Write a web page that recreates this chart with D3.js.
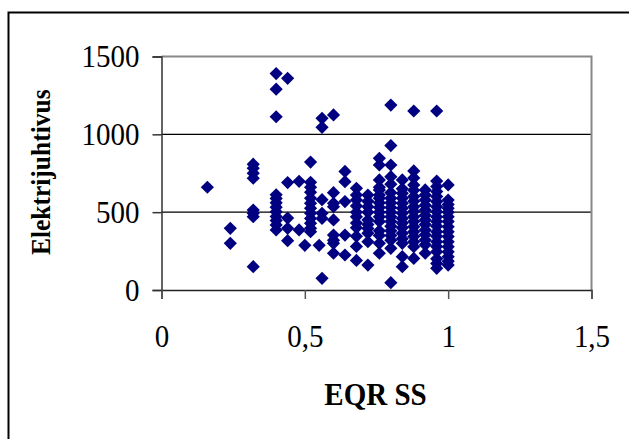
<!DOCTYPE html>
<html>
<head>
<meta charset="utf-8">
<script src="https://cdn.jsdelivr.net/npm/d3@7"></script>
<style>
  html, body { margin: 0; padding: 0; background: #fff; }
  svg { display: block; }
  text { font-family: "Liberation Serif", "Times New Roman", serif; fill: #000; }
</style>
</head>
<body>
<svg id="chart" width="629" height="439"></svg>
<script>
// EQR SS value of each sampling site (x) and its electrical conductivity (y)
const eqrSS = [
  0.16,
  0.24, 0.24,
  0.32, 0.32, 0.32, 0.32, 0.32, 0.32, 0.32, 0.32,
  0.40, 0.40, 0.40, 0.40, 0.40, 0.40, 0.40, 0.40, 0.40, 0.40, 0.40, 0.40,
  0.44, 0.44, 0.44, 0.44, 0.44,
  0.48, 0.48,
  0.50,
  0.52, 0.52, 0.52, 0.52, 0.52, 0.52, 0.52, 0.52, 0.52, 0.52, 0.52, 0.52,
  0.55,
  0.56, 0.56, 0.56, 0.56, 0.56, 0.56,
  0.60, 0.60, 0.60, 0.60, 0.60, 0.60, 0.60, 0.60, 0.60,
  0.64, 0.64, 0.64, 0.64, 0.64,
  0.68, 0.68, 0.68, 0.68, 0.68, 0.68, 0.68, 0.68, 0.68, 0.68, 0.68,
  0.72, 0.72, 0.72, 0.72, 0.72, 0.72, 0.72, 0.72, 0.72, 0.72,
  0.76, 0.76, 0.76, 0.76, 0.76, 0.76, 0.76, 0.76, 0.76, 0.76, 0.76, 0.76, 0.76, 0.76, 0.76, 0.76,
  0.80, 0.80, 0.80, 0.80, 0.80, 0.80, 0.80, 0.80, 0.80, 0.80, 0.80, 0.80, 0.80, 0.80, 0.80, 0.80, 0.80, 0.80,
  0.84, 0.84, 0.84, 0.84, 0.84, 0.84, 0.84, 0.84, 0.84, 0.84, 0.84, 0.84, 0.84, 0.84, 0.84,
  0.88, 0.88, 0.88, 0.88, 0.88, 0.88, 0.88, 0.88, 0.88, 0.88, 0.88, 0.88, 0.88, 0.88, 0.88, 0.88, 0.88,
  0.92, 0.92, 0.92, 0.92, 0.92, 0.92, 0.92, 0.92, 0.92, 0.92, 0.92, 0.92, 0.92,
  0.96, 0.96, 0.96, 0.96, 0.96, 0.96, 0.96, 0.96, 0.96, 0.96, 0.96, 0.96, 0.96, 0.96, 0.96, 0.96, 0.96, 0.96, 0.96,
  1.00, 1.00, 1.00, 1.00, 1.00, 1.00, 1.00, 1.00, 1.00, 1.00, 1.00, 1.00, 1.00, 1.00, 1.00, 1.00
];

const conductivity = [
  660,
  396, 300,
  808, 782, 750, 718, 514, 493, 471, 150,
  1390, 1290, 1113, 612, 588, 560, 532, 502, 472, 446, 418, 386,
  1360, 690, 462, 396, 317,
  698, 386,
  287,
  822, 692, 660, 628, 590, 557, 525, 493, 460, 428, 396, 375,
  287,
  1103, 1045, 580, 493, 460, 75,
  1125, 625, 557, 535, 450, 353, 320, 300, 236,
  762, 696, 568, 353, 225,
  653, 610, 578, 540, 500, 470, 430, 400, 345, 280, 190,
  610, 570, 535, 500, 450, 420, 395, 365, 310, 160,
  846, 803, 707, 660, 643, 610, 589, 560, 530, 500, 470, 440, 380, 350, 300, 236,
  1188, 928, 803, 728, 680, 625, 590, 560, 530, 500, 470, 440, 410, 380, 350, 320, 268, 47,
  707, 650, 621, 590, 557, 525, 493, 460, 430, 400, 364, 330, 300, 214, 150,
  1150, 765, 720, 675, 640, 600, 570, 535, 505, 471, 440, 407, 375, 343, 310, 278, 203,
  643, 610, 578, 545, 514, 480, 450, 420, 386, 355, 321, 290, 236,
  1150, 700, 665, 632, 600, 568, 535, 503, 470, 440, 410, 375, 345, 310, 280, 246, 200, 171, 139,
  675, 578, 550, 525, 500, 471, 440, 407, 375, 343, 310, 278, 245, 214, 185, 160
];

const xTicks = [0, 0.5, 1, 1.5];
const xTickLabels = ["0", "0,5", "1", "1,5"];
const yTicks = [0, 500, 1000, 1500];
const yTickLabels = ["0", "500", "1000", "1500"];

const points = eqrSS.map((x, i) => ({ x, y: conductivity[i] }));

// the serif text in this chart is drawn slightly tall; stretch around its own baseline
function stretch(sel, k) {
  sel.each(function () {
    const t = d3.select(this);
    const ty = +t.attr("y") || 0;
    const tx = +t.attr("x") || 0;
    t.attr("transform", `translate(${tx},${ty}) scale(1,${k}) translate(${-tx},${-ty})`);
  });
}

const svg = d3.select("#chart");

// outer chart frame (only the left and top edges fall inside the window)
svg.append("rect")
  .attr("x", 8.5).attr("y", 12.5)
  .attr("width", 660).attr("height", 460)
  .attr("fill", "#fff")
  .attr("stroke", "#000").attr("stroke-width", 2);

const plot = { left: 161.5, right: 591.5, top: 56.5, bottom: 290 };

const x = d3.scaleLinear().domain([0, 1.5]).range([plot.left, plot.right]);
const y = d3.scaleLinear().domain([0, 1500]).range([plot.bottom, plot.top]);

// horizontal gridlines at 500 and 1000
svg.append("g")
  .selectAll("line")
  .data(yTicks.filter(v => v > 0 && v < 1500))
  .join("line")
  .attr("x1", plot.left).attr("x2", plot.right)
  .attr("y1", d => y(d)).attr("y2", d => y(d))
  .attr("stroke", "#000").attr("stroke-width", 1.2);

// plot-area border: grey top and right edges
svg.append("path")
  .attr("d", `M${plot.left},${y(1500)}H${plot.right}V${plot.bottom}`)
  .attr("fill", "none")
  .attr("stroke", "#888").attr("stroke-width", 2);

// y axis
const yAxis = svg.append("g")
  .attr("transform", `translate(${plot.left},0)`)
  .call(d3.axisLeft(y).tickValues(yTicks).tickSize(9).tickPadding(13)
    .tickFormat((d, i) => yTickLabels[i]));
yAxis.select(".domain").attr("stroke", "#333").attr("stroke-width", 1.5);
yAxis.selectAll(".tick line").attr("stroke", "#333").attr("stroke-width", 1.5);
yAxis.selectAll(".tick text")
  .style("font-size", "29px")
  .attr("dy", null)
  .attr("y", 10);
stretch(yAxis.selectAll(".tick text"), 1.1);

// x axis
const xAxis = svg.append("g")
  .attr("transform", `translate(0,${plot.bottom})`)
  .call(d3.axisBottom(x).tickValues(xTicks).tickSize(9).tickPadding(22)
    .tickFormat((d, i) => xTickLabels[i]));
xAxis.select(".domain").attr("stroke", "#222").attr("stroke-width", 1.5);
xAxis.selectAll(".tick line").attr("stroke", "#555").attr("stroke-width", 1.5);
xAxis.selectAll(".tick text")
  .style("font-size", "29px")
  .attr("dy", null)
  .attr("y", 57);
stretch(xAxis.selectAll(".tick text"), 1.1);

// navy diamond markers
const diamond = "M0,-6.6L6.6,0L0,6.6L-6.6,0Z";
svg.append("g")
  .selectAll("path")
  .data(points)
  .join("path")
  .attr("d", diamond)
  .attr("transform", d => `translate(${x(d.x)},${y(d.y)})`)
  .attr("fill", "#000080");

// axis titles
const xTitle = svg.append("text")
  .attr("x", (plot.left + plot.right) / 2 - 1)
  .attr("y", 405)
  .attr("text-anchor", "middle")
  .style("font-size", "29px")
  .style("font-weight", "bold")
  .text("EQR SS");
stretch(xTitle, 1.1);

svg.append("text")
  .attr("transform", `translate(50,${(plot.top + plot.bottom) / 2 - 1}) rotate(-90) scale(1,1.08)`)
  .attr("text-anchor", "middle")
  .style("font-size", "25.5px")
  .style("font-weight", "bold")
  .text("Elektrijuhtivus");
</script>
</body>
</html>
